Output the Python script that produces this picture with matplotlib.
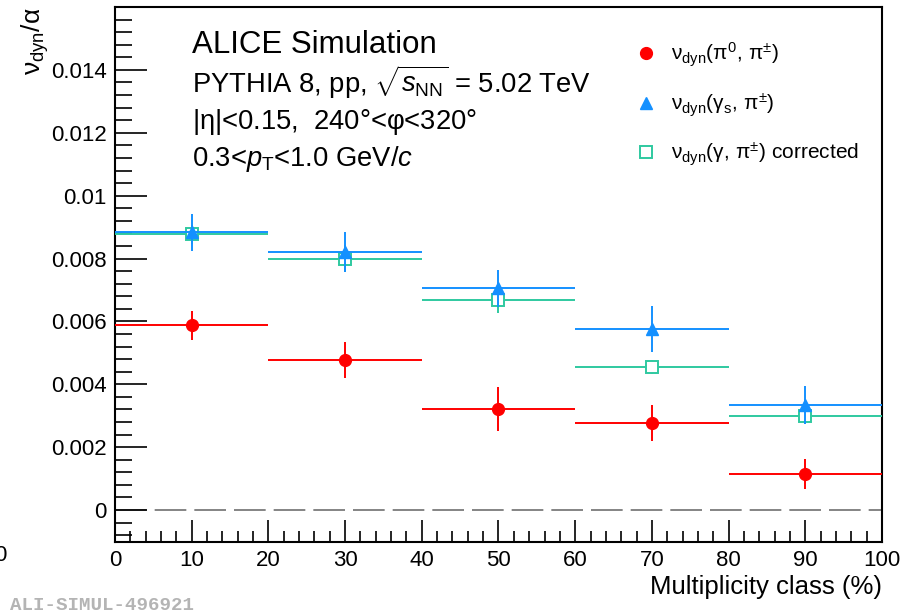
import numpy as np
import matplotlib
matplotlib.use('Agg')
import matplotlib.pyplot as plt
from matplotlib.ticker import MultipleLocator, FixedLocator
from matplotlib.lines import Line2D

plt.rcParams['font.family'] = ['Liberation Sans', 'DejaVu Sans']
plt.rcParams['mathtext.fontset'] = 'custom'
plt.rcParams['mathtext.rm'] = 'Liberation Sans'
plt.rcParams['mathtext.it'] = 'Liberation Sans:italic'
plt.rcParams['mathtext.default'] = 'regular'

# multiplicity classes (bin centres, half widths)
mult = [10, 30, 50, 70, 90]
mult_err = [10, 10, 10, 10, 10]

# nu_dyn(pi0, pi+-)
pi0 = [0.00588, 0.00478, 0.00323, 0.00277, 0.00116]
pi0_err = [0.00046, 0.00057, 0.00070, 0.00057, 0.00048]

# nu_dyn(gamma_s, pi+-)
gs = [0.00883, 0.00820, 0.00705, 0.00575, 0.00334]
gs_err = [0.00060, 0.00064, 0.00060, 0.00073, 0.00060]

# nu_dyn(gamma, pi+-) corrected
gcor = [0.00877, 0.00800, 0.00668, 0.00455, 0.00300]
gcor_err = [0.00030, 0.00044, 0.00040, 0.00023, 0.00027]

yticks = [0, 0.002, 0.004, 0.006, 0.008, 0.01, 0.012, 0.014]
ytick_labels = ['0', '0.002', '0.004', '0.006', '0.008', '0.01', '0.012', '0.014']

c_red = '#ff0000'
c_blue = '#1490ff'
c_green = '#2fc9a0'

fig = plt.figure(figsize=(9.07, 6.15), dpi=100)
ax = fig.add_axes([0.1268, 0.1195, 0.9724 - 0.1268, 0.9886 - 0.1195])

ax.axhline(0, color='#707070', lw=1.2, dashes=(19, 4.8), zorder=1)

ax.errorbar(mult, gcor, xerr=mult_err, yerr=gcor_err, fmt='s', color=c_green,
            mfc='white', mec=c_green, mew=1.4, ms=8, elinewidth=1.4, capsize=0, zorder=3)
ax.errorbar(mult, gs, xerr=mult_err, yerr=gs_err, fmt='^', color=c_blue,
            ms=8.5, elinewidth=1.4, capsize=0, zorder=4)
ax.errorbar(mult, pi0, xerr=mult_err, yerr=pi0_err, fmt='o', color=c_red,
            ms=8.5, elinewidth=1.4, capsize=0, zorder=5)

ax.set_xlim(0, 100)
ax.set_ylim(-0.001, 0.016)
ax.xaxis.set_major_locator(MultipleLocator(10))
ax.xaxis.set_minor_locator(MultipleLocator(2))
ax.set_yticks(yticks, ytick_labels)
ax.yaxis.set_minor_locator(FixedLocator(np.arange(-0.0008, 0.0160, 0.0004)))
ax.tick_params(which='both', direction='in', top=False, right=False, labelsize=16, color='black')
ax.tick_params(axis='y', which='major', length=23, width=1.2, pad=6)
ax.tick_params(axis='y', which='minor', length=12, width=1.2)
ax.tick_params(axis='x', which='major', length=16, width=1.2, pad=6)
ax.tick_params(axis='x', which='minor', length=8, width=1.2)
for s in ax.spines.values():
    s.set_linewidth(1.5)

ax.set_xlabel('Multiplicity class (%)', fontsize=18.5, loc='right', labelpad=3)
ax.set_ylabel(r'$\nu_{dyn}/\alpha$', fontsize=19, loc='top', labelpad=0)

# legend shows markers only
handles = [
    Line2D([], [], ls='none', marker='o', color=c_red, ms=8.5),
    Line2D([], [], ls='none', marker='^', color=c_blue, ms=8.5),
    Line2D([], [], ls='none', marker='s', mfc='white', mec=c_green, mew=1.4, ms=8),
]
labels = [r'$\nu_{dyn}(\pi^{0},\,\pi^{\pm})$',
          r'$\nu_{dyn}(\gamma_{s},\,\pi^{\pm})$',
          r'$\nu_{dyn}(\gamma,\,\pi^{\pm})$ corrected']
ax.legend(handles, labels, loc='upper left', bbox_to_anchor=(0.676, 0.937),
          frameon=False, fontsize=15, labelspacing=1.05, handletextpad=0.6,
          handlelength=1.2, borderpad=0, borderaxespad=0)

ax.text(0.1, 0.929, 'ALICE Simulation', transform=ax.transAxes, fontsize=22.5, va='center')
ax.text(0.1, 0.858, r'PYTHIA 8, pp, $\sqrt{\mathit{s}_{NN}}$ = 5.02 TeV', transform=ax.transAxes,
        fontsize=19.7, va='center')
ax.text(0.1, 0.785, r'$|\eta|$<0.15,  240°<$\varphi$<320°', transform=ax.transAxes,
        fontsize=19.7, va='center')
ax.text(0.1, 0.716, r'0.3<$\mathit{p}_{T}$<1.0 GeV/$\mathit{c}$', transform=ax.transAxes,
        fontsize=19.7, va='center')

fig.text(0.011, 0.008, 'ALI-SIMUL-496921', family='Liberation Mono', weight='bold',
         fontsize=13.8, color='#b4b4b4')
fig.text(-0.007, 0.087, '0', fontsize=16)

fig.savefig('out.png', dpi=100)
